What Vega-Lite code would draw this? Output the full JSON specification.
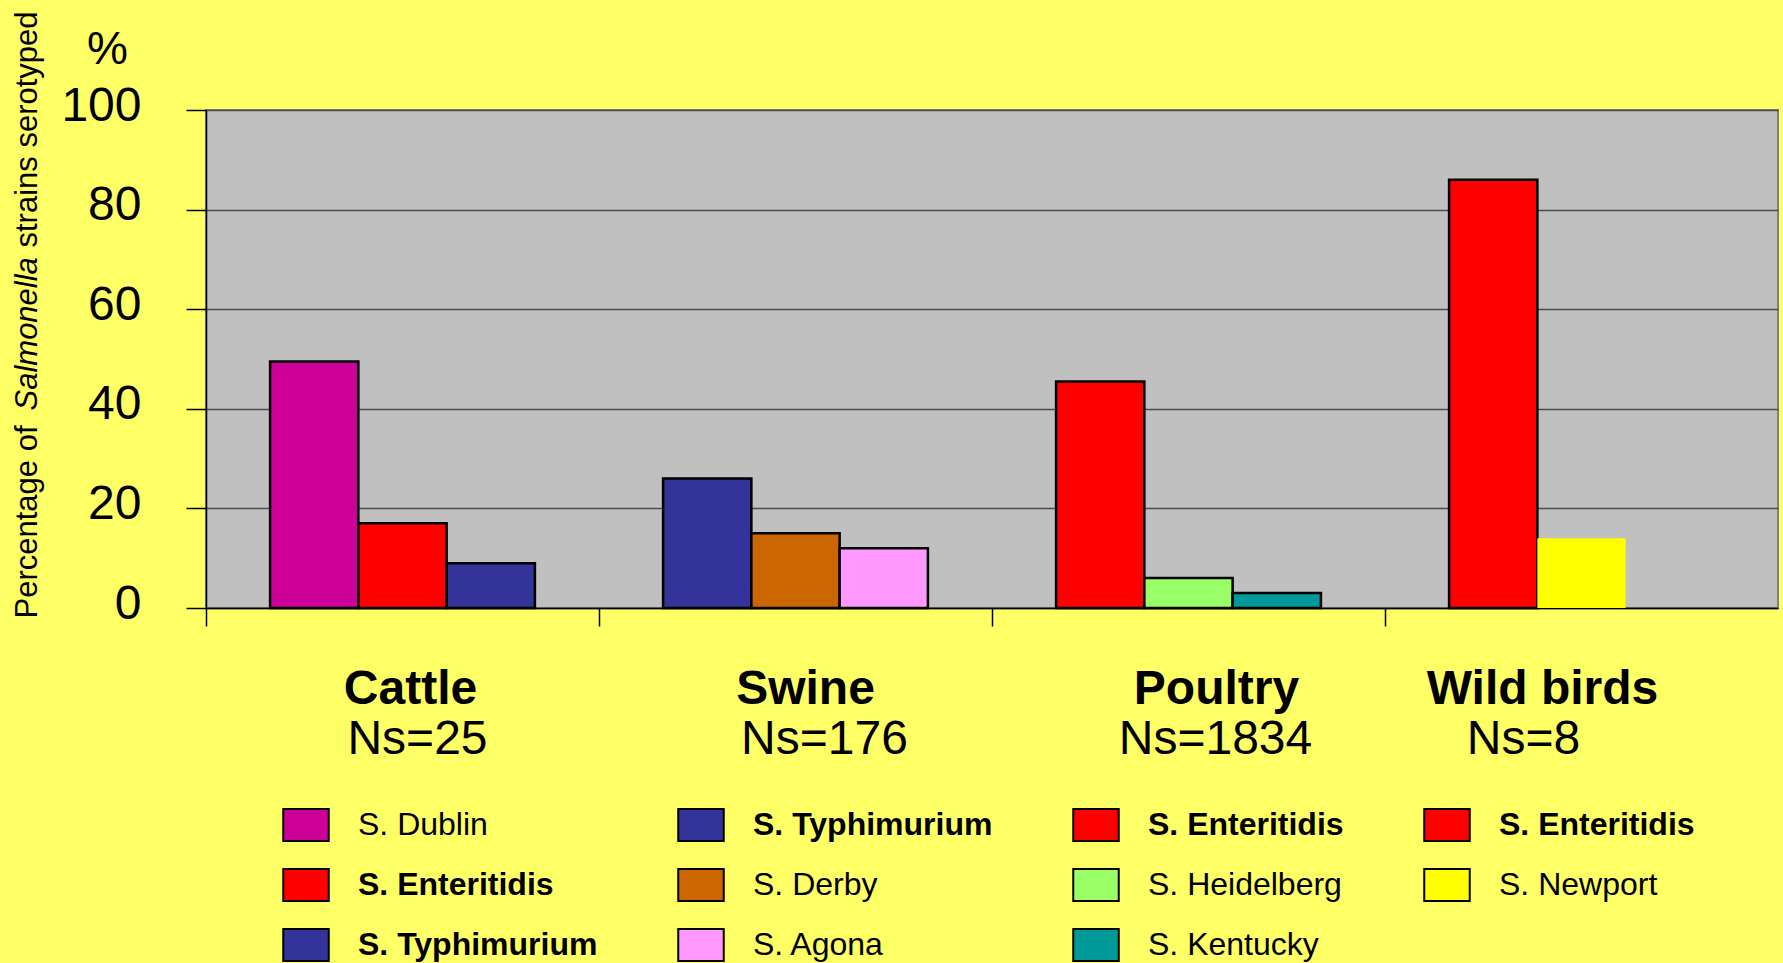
{
  "$schema": "https://vega.github.io/schema/vega-lite/v6.json",
  "width": 1572,
  "height": 498,
  "autosize": {"type": "none"},
  "padding": {"left": 206, "top": 110, "right": 5, "bottom": 355},
  "background": "#FFFF66",
  "config": {
    "font": "Liberation Sans",
    "view": {"fill": "#C0C0C0", "stroke": "#808080", "strokeWidth": 2},
    "axis": {"labelFont": "Liberation Sans", "titleFont": "Liberation Sans", "labelColor": "black", "titleColor": "black"},
    "legend": {"labelFont": "Liberation Sans", "labelColor": "black"}
  },
  "data": {
    "values": [
      {"group": "Cattle|Ns=25", "slot": 1, "serotype": "S. Dublin", "key": "Cattle|S. Dublin", "pct": 49.5},
      {"group": "Cattle|Ns=25", "slot": 2, "serotype": "S. Enteritidis", "key": "Cattle|S. Enteritidis", "pct": 17},
      {"group": "Cattle|Ns=25", "slot": 3, "serotype": "S. Typhimurium", "key": "Cattle|S. Typhimurium", "pct": 9},
      {"group": "Swine|Ns=176", "slot": 1, "serotype": "S. Typhimurium", "key": "Swine|S. Typhimurium", "pct": 26},
      {"group": "Swine|Ns=176", "slot": 2, "serotype": "S. Derby", "key": "Swine|S. Derby", "pct": 15},
      {"group": "Swine|Ns=176", "slot": 3, "serotype": "S. Agona", "key": "Swine|S. Agona", "pct": 12},
      {"group": "Poultry|Ns=1834", "slot": 1, "serotype": "S. Enteritidis", "key": "Poultry|S. Enteritidis", "pct": 45.5},
      {"group": "Poultry|Ns=1834", "slot": 2, "serotype": "S. Heidelberg", "key": "Poultry|S. Heidelberg", "pct": 6},
      {"group": "Poultry|Ns=1834", "slot": 3, "serotype": "S. Kentucky", "key": "Poultry|S. Kentucky", "pct": 3},
      {"group": "Wild birds|Ns=8", "slot": 1, "serotype": "S. Enteritidis", "key": "Wild birds|S. Enteritidis", "pct": 86},
      {"group": "Wild birds|Ns=8", "slot": 2, "serotype": "S. Newport", "key": "Wild birds|S. Newport", "pct": 14}
    ]
  },
  "resolve": {"axis": {"x": "independent", "y": "independent"}},
  "layer": [
    {
      "mark": {"type": "bar", "stroke": "black", "strokeWidth": 2.5},
      "encoding": {
        "x": {
          "field": "group", "type": "nominal",
          "sort": ["Cattle|Ns=25", "Swine|Ns=176", "Poultry|Ns=1834", "Wild birds|Ns=8"],
          "scale": {"paddingInner": 0, "paddingOuter": 0},
          "axis": {
            "orient": "bottom", "title": null,
            "labelExpr": "split(datum.value, '|')[0]",
            "labelFontSize": 48, "labelFontWeight": "bold", "labelAngle": 0,
            "labelAlign": "center", "labelBaseline": "top",
            "labelPadding": 39,
            "labelOffset": {"condition": [
              {"test": "datum.value == 'Cattle|Ns=25'", "value": 8},
              {"test": "datum.value == 'Swine|Ns=176'", "value": 10},
              {"test": "datum.value == 'Poultry|Ns=1834'", "value": 28}
            ], "value": -39},
            "bandPosition": 0,
            "labelFlush": false, "labelOverlap": false, "labelLimit": 0,
            "tickSize": 18, "tickColor": "black", "tickWidth": 1.5,
            "domainColor": "black", "domainWidth": 1.5, "grid": false
          }
        },
        "xOffset": {"field": "slot", "type": "ordinal", "scale": {"domain": [1, 2, 3], "paddingInner": 0, "paddingOuter": 0.726}},
        "y": {
          "field": "pct", "type": "quantitative",
          "scale": {"domain": [0, 100], "nice": false},
          "axis": {
            "orient": "left",
            "title": "Percentage of", "titleFontSize": 31, "titleFontWeight": "normal",
            "titleAngle": -90, "titleAlign": "left", "titleBaseline": "alphabetic",
            "titleX": -170, "titleY": 508,
            "values": [0, 20, 40, 60, 80, 100],
            "labelFontSize": 48, "labelPadding": 45, "labelBaseline": "middle", "labelFlush": false,
            "labelOffset": -4,
            "tickSize": 20, "tickColor": "black", "tickWidth": 1.5,
            "domainColor": "black", "domainWidth": 1.5,
            "grid": true, "gridColor": "#4d4d4d", "gridWidth": 1.5
          }
        },
        "color": {
          "field": "key", "type": "nominal",
          "scale": {
            "domain": [
              "Cattle|S. Dublin", "Swine|S. Typhimurium", "Poultry|S. Enteritidis", "Wild birds|S. Enteritidis",
              "Cattle|S. Enteritidis", "Swine|S. Derby", "Poultry|S. Heidelberg", "Wild birds|S. Newport",
              "Cattle|S. Typhimurium", "Swine|S. Agona", "Poultry|S. Kentucky"
            ],
            "range": [
              "#CC0099", "#333399", "#FF0000", "#FF0000",
              "#FF0000", "#CC6600", "#99FF66", "#FFFF00",
              "#333399", "#FF99FF", "#009999"
            ]
          },
          "legend": {
            "orient": "none", "legendX": 76, "legendY": 691,
            "title": null, "columns": 4, "direction": "horizontal",
            "gridAlign": "each", "columnPadding": 76, "rowPadding": 16, "padding": 0,
            "symbolType": "M-1,-0.7L1,-0.7L1,0.7L-1,0.7Z", "symbolSize": 2070,
            "symbolStrokeColor": "black", "symbolStrokeWidth": 2, "symbolOpacity": 1,
            "labelFontSize": 32, "labelOffset": 28, "labelLimit": 0,
            "labelExpr": "split(datum.value, '|')[1]",
            "encode": {
              "labels": {"update": {"fontWeight": {"signal": "test(/Enteritidis|Typhimurium/, datum.value) ? 'bold' : 'normal'"}}}
            }
          }
        },
        "strokeOpacity": {"condition": {"test": "datum.serotype === 'S. Newport'", "value": 0}, "value": 1}
      }
    },
    {
      "mark": {"type": "bar", "opacity": 0},
      "encoding": {
        "x": {
          "field": "group", "type": "nominal",
          "sort": ["Cattle|Ns=25", "Swine|Ns=176", "Poultry|Ns=1834", "Wild birds|Ns=8"],
          "axis": {
            "orient": "bottom", "title": null,
            "labelExpr": "split(datum.value, '|')[1]",
            "labelFontSize": 48, "labelFontWeight": "normal", "labelAngle": 0,
            "labelAlign": "center", "labelBaseline": "top",
            "labelPadding": 107,
            "labelOffset": {"condition": [
              {"test": "datum.value == 'Cattle|Ns=25'", "value": 15},
              {"test": "datum.value == 'Swine|Ns=176'", "value": 29},
              {"test": "datum.value == 'Poultry|Ns=1834'", "value": 27}
            ], "value": -58},
            "ticks": false, "domain": false, "grid": false,
            "labelFlush": false, "labelOverlap": false, "labelLimit": 0
          }
        },
        "y": {
          "field": "pct", "type": "quantitative",
          "axis": {
            "orient": "left", "title": "Salmonella", "titleFontSize": 31, "titleFontWeight": "normal",
            "titleFontStyle": "italic",
            "titleAngle": -90, "titleAlign": "left", "titleBaseline": "alphabetic",
            "titleX": -170, "titleY": 300,
            "labels": false, "ticks": false, "domain": false, "grid": false
          }
        }
      }
    },
    {
      "mark": {"type": "bar", "opacity": 0},
      "encoding": {
        "x": {"field": "group", "type": "nominal", "sort": ["Cattle|Ns=25", "Swine|Ns=176", "Poultry|Ns=1834", "Wild birds|Ns=8"], "axis": null},
        "y": {
          "field": "pct", "type": "quantitative",
          "axis": {
            "orient": "left", "title": "strains serotyped", "titleFontSize": 31, "titleFontWeight": "normal",
            "titleAngle": -90, "titleAlign": "left", "titleBaseline": "alphabetic",
            "titleX": -170, "titleY": 137,
            "labels": false, "ticks": false, "domain": false, "grid": false
          }
        }
      }
    },
    {
      "mark": {"type": "bar", "opacity": 0},
      "encoding": {
        "x": {"field": "group", "type": "nominal", "sort": ["Cattle|Ns=25", "Swine|Ns=176", "Poultry|Ns=1834", "Wild birds|Ns=8"], "axis": null},
        "y": {
          "field": "pct", "type": "quantitative",
          "axis": {
            "orient": "left", "title": "%", "titleFontSize": 46, "titleFontWeight": "normal",
            "titleAngle": 0, "titleAlign": "center", "titleBaseline": "alphabetic",
            "titleX": -99, "titleY": -47,
            "labels": false, "ticks": false, "domain": false, "grid": false
          }
        }
      }
    }
  ]
}
